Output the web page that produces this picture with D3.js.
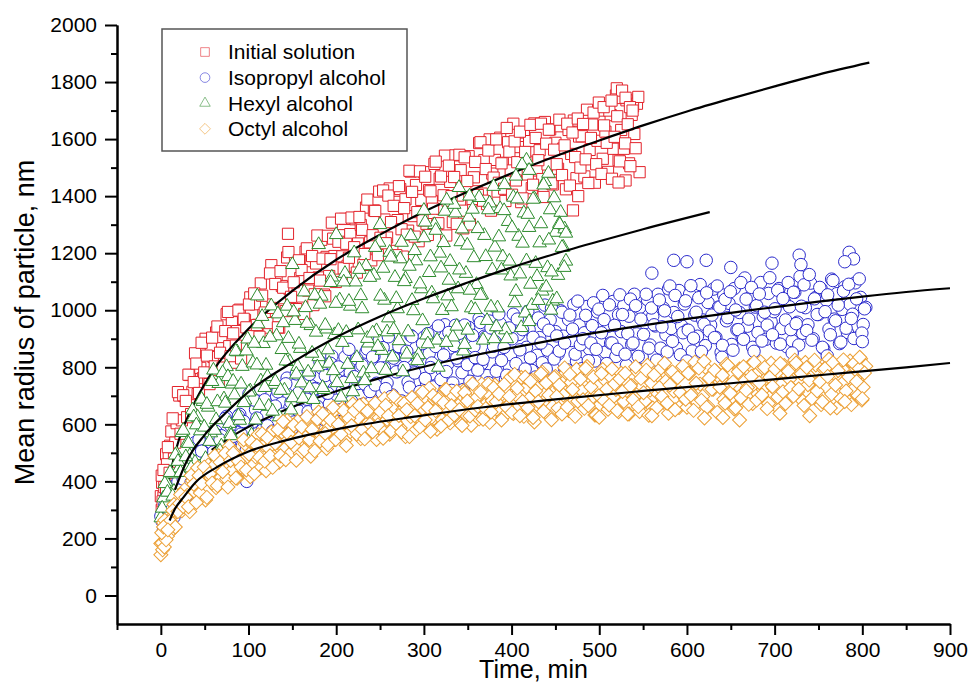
<!DOCTYPE html>
<html>
<head>
<meta charset="utf-8">
<script src="https://cdn.jsdelivr.net/npm/d3@7"></script>
<style>
	body { margin: 0; background: #fff; }
	svg { display: block; }
	text { font-family: 'Liberation Sans', Arial, sans-serif; fill: #000; }
</style>
</head>
<body>
<svg id="chart" width="970" height="684"></svg>
<script>
// Series: [time, min ; mean radius, nm]
const initialSolution = [
	[0,348],[3,345],[6,495],[9,482],[12,575],[15,480],[18,604],[21,701],[24,614],[27,699],
	[30,625],[33,773],[36,714],[39,849],[42,706],[45,798],[48,762],[51,900],[54,744],[57,878],
	[60,836],[63,922],[66,752],[69,906],[72,829],[75,986],[78,874],[81,958],[84,816],[87,927],
	[90,1002],[93,873],[96,966],[99,944],[102,1045],[105,893],[108,1021],[111,949],[114,1094],[117,984],
	[120,1020],[123,939],[126,1158],[129,997],[132,1106],[135,939],[138,1085],[141,1003],[144,1185],[147,1073],
	[150,1000],[153,1166],[156,1072],[159,1113],[162,1009],[165,1205],[168,1069],[171,1172],[174,1018],[177,1164],
	[180,1115],[183,1247],[186,1055],[189,1187],[192,1120],[195,1307],[198,1190],[201,1107],[204,1263],[207,1189],
	[210,1320],[213,1156],[216,1267],[219,1113],[222,1319],[225,1234],[228,1299],[231,1159],[234,1360],[237,1220],
	[240,1175],[243,1350],[246,1250],[249,1416],[252,1210],[255,1318],[258,1255],[261,1427],[264,1208],[267,1380],
	[270,1316],[273,1425],[276,1188],[279,1389],[282,1279],[285,1486],[288,1330],[291,1439],[294,1242],[297,1387],
	[300,1484],[303,1302],[306,1421],[309,1383],[312,1513],[315,1297],[318,1461],[321,1355],[324,1542],[327,1384],
	[330,1450],[333,1309],[336,1543],[339,1402],[342,1491],[345,1287],[348,1434],[351,1540],[354,1371],[357,1466],
	[360,1417],[363,1586],[366,1409],[369,1526],[372,1372],[375,1599],[378,1479],[381,1527],[384,1416],[387,1605],
	[390,1517],[393,1383],[396,1589],[399,1490],[402,1654],[405,1455],[408,1572],[411,1379],[414,1623],[417,1521],
	[420,1593],[423,1428],[426,1655],[429,1490],[432,1561],[435,1460],[438,1660],[441,1511],[444,1634],[447,1441],
	[450,1587],[453,1496],[456,1645],[459,1567],[462,1424],[465,1632],[468,1548],[471,1665],[474,1463],[477,1609],
	[480,1610],[483,1469],[486,1703],[489,1562],[492,1651],[495,1447],[498,1594],[501,1700],[504,1531],[507,1626],
	[510,1485],[513,1684],[516,1566],[519,1753],[522,1526],[525,1632],[528,1566],[531,1736],[534,1515],[537,1685],
	[540,1618],[543,1724],[546,1484],
	[1.5,395],[4.5,395],[7.5,407],[10.5,525],[13.5,621],[16.5,536],[19.5,713],[22.5,567],[25.5,702],[28.5,682],
	[31.5,774],[34.5,636],[37.5,748],[40.5,813],[43.5,710],[46.5,886],[49.5,782],[52.5,841],[55.5,741],[58.5,904],
	[61.5,803],[64.5,943],[67.5,851],[70.5,799],[73.5,927],[76.5,994],[79.5,839],[82.5,919],[85.5,876],[88.5,999],
	[91.5,831],[94.5,970],[97.5,940],[100.5,1020],[103.5,909],[106.5,1059],[109.5,948],[112.5,907],[115.5,1051],[118.5,992],
	[121.5,955],[124.5,1129],[127.5,1008],[130.5,1092],[133.5,940],[136.5,1137],[139.5,1079],[142.5,997],[145.5,1204],[148.5,1047],
	[151.5,1098],[154.5,1004],[157.5,1175],[160.5,1141],[163.5,987],[166.5,1217],[169.5,1113],[172.5,1190],[175.5,1056],[178.5,1262],
	[181.5,1104],[184.5,1181],[187.5,1049],[190.5,1261],[193.5,1179],[196.5,1251],[199.5,1099],[202.5,1240],[205.5,1321],[208.5,1147],
	[211.5,1233],[214.5,1184],[217.5,1325],[220.5,1221],[223.5,1132],[226.5,1327],[229.5,1282],[232.5,1197],[235.5,1388],[238.5,1238],
	[241.5,1263],[244.5,1348],[247.5,1193],[250.5,1254],[253.5,1420],[256.5,1235],[259.5,1402],[262.5,1309],[265.5,1366],[268.5,1193],
	[271.5,1435],[274.5,1284],[277.5,1358],[280.5,1265],[283.5,1489],[286.5,1415],[289.5,1258],[292.5,1344],[295.5,1487],[298.5,1315],
	[301.5,1468],[304.5,1264],[307.5,1417],[310.5,1356],[313.5,1521],[316.5,1305],[319.5,1469],[322.5,1403],[325.5,1262],[328.5,1507],
	[331.5,1400],[334.5,1467],[337.5,1303],[340.5,1545],[343.5,1349],[346.5,1536],[349.5,1453],[352.5,1301],[355.5,1390],[358.5,1520],
	[361.5,1404],[364.5,1589],[367.5,1384],[370.5,1495],[373.5,1560],[376.5,1349],[379.5,1465],[382.5,1599],[385.5,1447],[388.5,1515],
	[391.5,1426],[394.5,1639],[397.5,1556],[400.5,1405],[403.5,1592],[406.5,1519],[409.5,1626],[412.5,1392],[415.5,1555],[418.5,1476],
	[421.5,1650],[424.5,1440],[427.5,1604],[430.5,1526],[433.5,1654],[436.5,1397],[439.5,1584],[442.5,1633],[445.5,1445],[448.5,1563],
	[451.5,1512],[454.5,1668],[457.5,1474],[460.5,1578],[463.5,1654],[466.5,1437],[469.5,1623],[472.5,1537],[475.5,1672],[478.5,1500],
	[481.5,1653],[484.5,1529],[487.5,1446],[490.5,1604],[493.5,1693],[496.5,1512],[499.5,1728],[502.5,1478],[505.5,1648],[508.5,1587],
	[511.5,1700],[514.5,1461],[517.5,1608],[520.5,1680],[523.5,1522],[526.5,1744],[529.5,1585],[532.5,1652],[535.5,1505],[538.5,1715],
	[541.5,1568],[544.5,1748],
	[1,300],[2,330],[4,380],[5,420],[7,460],[8,520],[1,420],[3,440],[6,360],[10,430],[2,270],[145,1268],
	[520,1778],[526,1770],[530,1745],[535,1712],[538,1700],[530,1455],[522,1448],[470,1350],[476,1400],[505,1712],[514,1735]
];

const isopropylAlcohol = [
	[0,278],[3,230],[6,345],[9,297],[12,350],[15,275],[18,353],[21,413],[24,352],[27,408],
	[30,338],[33,472],[36,409],[39,536],[42,402],[45,476],[48,442],[51,555],[54,424],[57,537],
	[60,503],[63,575],[66,430],[69,560],[72,495],[75,628],[78,532],[81,602],[84,481],[87,572],
	[90,635],[93,525],[96,602],[99,581],[102,686],[105,517],[108,652],[111,570],[114,723],[117,601],
	[120,634],[123,556],[126,754],[129,602],[132,698],[135,542],[138,675],[141,597],[144,762],[147,657],
	[150,587],[153,738],[156,650],[159,688],[162,590],[165,769],[168,644],[171,736],[174,594],[177,726],
	[180,679],[183,798],[186,617],[189,736],[192,670],[195,839],[198,727],[201,649],[204,789],[207,718],
	[210,836],[213,683],[216,781],[219,637],[222,824],[225,743],[228,801],[231,671],[234,853],[237,723],
	[240,679],[243,838],[246,744],[249,894],[252,712],[255,798],[258,745],[261,880],[264,703],[267,838],
	[270,785],[273,870],[276,678],[279,837],[282,748],[285,911],[288,784],[291,869],[294,710],[297,822],
	[300,905],[303,747],[306,849],[309,815],[312,927],[315,739],[318,881],[321,788],[324,949],[327,811],
	[330,868],[333,745],[336,947],[339,823],[342,900],[345,722],[348,849],[351,940],[354,792],[357,873],
	[360,830],[363,971],[366,813],[369,909],[372,771],[375,962],[378,854],[381,890],[384,792],[387,953],
	[390,875],[393,756],[396,933],[399,844],[402,986],[405,813],[408,915],[411,747],[414,958],[417,870],
	[420,932],[423,789],[426,986],[429,842],[432,904],[435,816],[438,1018],[441,860],[444,966],[447,798],
	[450,925],[453,846],[456,998],[459,909],[462,786],[465,967],[468,894],[471,1020],[474,822],[477,948],
	[480,795],[483,921],[486,1013],[489,864],[492,946],[495,822],[498,994],[501,890],[504,1052],[507,853],
	[510,944],[513,885],[516,1031],[519,838],[522,984],[525,925],[528,1016],[531,807],[534,979],[537,880],
	[540,1056],[543,917],[546,1009],[549,835],[552,956],[555,1037],[558,878],[561,979],[564,945],[567,1056],
	[570,867],[573,1008],[576,914],[579,1075],[582,936],[585,992],[588,868],[591,1069],[594,945],[597,1022],
	[600,930],[603,1056],[606,857],[609,983],[612,909],[615,1090],[618,966],[621,876],[624,1027],[627,948],
	[630,1074],[633,905],[636,1011],[639,852],[642,1053],[645,963],[648,1024],[651,880],[654,1076],[657,931],
	[660,992],[663,903],[666,1113],[669,944],[672,1045],[675,870],[678,1011],[681,922],[684,1097],[687,978],
	[690,898],[693,1059],[696,959],[699,995],[702,885],[705,1076],[708,936],[711,1031],[714,872],[717,1012],
	[720,893],[723,1063],[726,958],[729,1118],[732,919],[735,1009],[738,949],[741,1095],[744,900],[747,1045],
	[750,985],[753,1075],[756,865],[759,1035],[762,934],[765,1109],[768,969],[771,1058],[774,883],[777,1003],
	[780,1082],[783,922],[786,1021],[789,986],[792,1096],[795,905],[798,1045],[801,950],[804,1010],
	[1.5,260],[4.5,316],[7.5,250],[10.5,295],[13.5,381],[16.5,313],[19.5,398],[22.5,370],[25.5,408],[28.5,345],
	[31.5,481],[34.5,396],[37.5,451],[40.5,401],[43.5,547],[46.5,506],[49.5,414],[52.5,474],[55.5,569],[58.5,466],
	[61.5,568],[64.5,445],[67.5,546],[70.5,513],[73.5,621],[76.5,490],[79.5,596],[82.5,558],[85.5,473],[88.5,629],
	[91.5,566],[94.5,610],[97.5,511],[100.5,707],[103.5,532],[106.5,685],[109.5,622],[112.5,504],[115.5,579],[118.5,686],
	[121.5,595],[124.5,742],[127.5,576],[130.5,664],[133.5,714],[136.5,544],[139.5,636],[142.5,742],[145.5,622],[148.5,677],
	[151.5,608],[154.5,777],[157.5,712],[160.5,593],[163.5,744],[166.5,688],[169.5,775],[172.5,591],[175.5,724],[178.5,663],
	[181.5,819],[184.5,638],[187.5,771],[190.5,709],[193.5,814],[196.5,610],[199.5,762],[202.5,801],[205.5,652],[208.5,747],
	[211.5,708],[214.5,863],[217.5,681],[220.5,767],[223.5,830],[226.5,657],[229.5,807],[232.5,741],[235.5,864],[238.5,715],
	[241.5,836],[244.5,738],[247.5,672],[250.5,798],[253.5,869],[256.5,725],[259.5,907],[262.5,697],[265.5,832],[268.5,784],
	[271.5,873],[274.5,682],[277.5,799],[280.5,856],[283.5,730],[286.5,907],[289.5,780],[292.5,833],[295.5,715],[298.5,883],
	[301.5,761],[304.5,918],[307.5,799],[310.5,731],[313.5,873],[316.5,945],[319.5,757],[322.5,843],[325.5,785],[328.5,922],
	[331.5,719],[334.5,876],[337.5,832],[340.5,919],[343.5,781],[346.5,948],[349.5,809],[352.5,751],[355.5,912],[358.5,834],
	[361.5,790],[364.5,957],[367.5,828],[370.5,905],[373.5,746],[376.5,938],[379.5,874],[382.5,786],[385.5,987],[388.5,824],
	[391.5,870],[394.5,772],[397.5,938],[400.5,900],[403.5,742],[406.5,969],[409.5,861],[412.5,932],[415.5,794],[418.5,996],
	[421.5,833],[424.5,905],[427.5,766],[430.5,973],[433.5,885],[436.5,952],[439.5,794],[442.5,930],[445.5,1007],[448.5,829],
	[451.5,910],[454.5,857],[457.5,993],[460.5,885],[463.5,791],[466.5,983],[469.5,934],[472.5,846],[475.5,1032],[478.5,879],
	[481.5,900],[484.5,982],[487.5,823],[490.5,885],[493.5,1026],[496.5,863],[499.5,1004],[502.5,921],[505.5,967],[508.5,813],
	[511.5,1019],[514.5,885],[517.5,947],[520.5,863],[523.5,1054],[526.5,985],[529.5,846],[532.5,918],[535.5,1039],[538.5,885],
	[541.5,1016],[544.5,838],[547.5,969],[550.5,915],[553.5,1056],[556.5,867],[559.5,1008],[562.5,949],[565.5,825],[568.5,1036],
	[571.5,942],[574.5,998],[577.5,854],[580.5,1085],[583.5,891],[586.5,1052],[589.5,978],[592.5,844],[595.5,921],[598.5,1033],
	[601.5,930],[604.5,1086],[607.5,902],[610.5,993],[613.5,1044],[616.5,855],[619.5,951],[622.5,1061],[625.5,927],[628.5,983],
	[631.5,904],[634.5,1085],[637.5,1011],[640.5,877],[643.5,1038],[646.5,974],[649.5,1065],[652.5,860],[655.5,1001],[658.5,932],
	[661.5,1097],[664.5,898],[667.5,1039],[670.5,969],[673.5,1080],[676.5,856],[679.5,1016],[682.5,1057],[685.5,892],[688.5,993],
	[691.5,948],[694.5,1114],[697.5,914],[700.5,1005],[703.5,1070],[706.5,881],[709.5,1041],[712.5,966],[715.5,1097],[718.5,932],
	[721.5,1063],[724.5,953],[727.5,878],[730.5,1014],[733.5,1089],[736.5,929],[739.5,1125],[742.5,895],[745.5,1040],[748.5,985],
	[751.5,1080],[754.5,870],[757.5,995],[760.5,1054],[763.5,914],[766.5,1104],[769.5,963],[772.5,1018],[775.5,888],[778.5,1067],
	[781.5,937],[784.5,1091],[787.5,971],[790.5,901],[793.5,1040],[796.5,1110],[799.5,920],[802.5,1005],
	[98,400],[585,1175],[600,1170],[622,1175],[697,1165],[728,1193],[785,1203],[790,1180],[780,1170],
	[730,1160],[650,1150],[560,1130],[720,850],[760,840],[800,890],[640,835],[600,822]
];

const hexylAlcohol = [
	[0,272],[3,342],[6,398],[9,363],[12,426],[15,365],[18,496],[21,447],[24,571],[27,456],
	[30,535],[33,490],[36,650],[39,467],[42,625],[45,577],[48,680],[51,480],[54,660],[57,570],
	[60,790],[63,616],[66,743],[69,524],[72,689],[75,802],[78,603],[81,741],[84,703],[87,854],
	[90,614],[93,803],[96,685],[99,899],[102,717],[105,815],[108,615],[111,952],[114,752],[117,883],
	[120,807],[123,663],[126,1015],[129,740],[132,910],[135,626],[138,862],[141,720],[144,1014],[147,820],
	[150,693],[153,964],[156,803],[159,866],[162,691],[165,1009],[168,783],[171,946],[174,687],[177,923],
	[180,837],[183,1049],[186,722],[189,934],[192,814],[195,1116],[198,914],[201,746],[204,1036],[207,887],
	[210,1129],[213,810],[216,1014],[219,714],[222,1099],[225,931],[228,1051],[231,780],[234,1156],[237,885],
	[240,795],[243,1123],[246,928],[249,1238],[252,859],[255,1035],[258,924],[261,1203],[264,836],[267,1115],
	[270,1005],[273,1180],[276,784],[279,1111],[282,924],[285,1261],[288,998],[291,1173],[294,844],[297,1075],
	[300,1254],[303,913],[306,1132],[309,1060],[312,1300],[315,895],[318,1200],[321,999],[324,1347],[327,1050],
	[330,1171],[333,906],[336,1341],[339,1075],[342,1240],[345,857],[348,1129],[351,1326],[354,1008],[357,1184],
	[360,1090],[363,1395],[366,1054],[369,1262],[372,964],[375,1376],[378,1142],[381,1221],[384,1008],[387,1356],
	[390,1187],[393,931],[396,1311],[399,1120],[402,1396],[405,1066],[408,1259],[411,939],[414,1341],[417,1173],
	[420,1290],[423,1017],[426,1391],[429,1118],[432,1236],[435,1067],[438,1451],[441,1149],[444,1352],[447,1032],
	[450,1273],[453,1122],[456,1343],[459,1221],[462,1172],
	[1.5,306],[4.5,392],[7.5,362],[10.5,431],[13.5,348],[16.5,492],[19.5,470],[22.5,431],[25.5,579],[28.5,486],
	[31.5,533],[34.5,447],[37.5,626],[40.5,598],[43.5,451],[46.5,688],[49.5,590],[52.5,670],[55.5,540],[58.5,750],
	[61.5,579],[64.5,679],[67.5,506],[70.5,781],[73.5,674],[76.5,767],[79.5,568],[82.5,751],[85.5,856],[88.5,630],
	[91.5,741],[94.5,676],[97.5,857],[100.5,713],[103.5,563],[106.5,884],[109.5,808],[112.5,666],[115.5,978],[118.5,729],
	[121.5,767],[124.5,905],[127.5,646],[130.5,750],[133.5,987],[136.5,719],[139.5,956],[142.5,822],[145.5,901],[148.5,650],
	[151.5,994],[154.5,776],[157.5,881],[160.5,745],[163.5,1064],[166.5,954],[169.5,728],[172.5,849],[175.5,1052],[178.5,801],
	[181.5,1021],[184.5,729],[187.5,947],[190.5,861],[193.5,1097],[196.5,788],[199.5,1024],[202.5,929],[205.5,695],[208.5,1099],
	[211.5,922],[214.5,1031],[217.5,760],[220.5,1201],[223.5,834],[226.5,1143],[229.5,1005],[232.5,753],[235.5,901],[238.5,1115],
	[241.5,920],[244.5,1220],[247.5,873],[250.5,1049],[253.5,1147],[256.5,789],[259.5,973],[262.5,1186],[265.5,932],[268.5,1041],
	[271.5,893],[274.5,1238],[277.5,1100],[280.5,846],[283.5,1154],[286.5,1034],[289.5,1209],[292.5,823],[295.5,1092],[298.5,963],
	[301.5,1309],[304.5,882],[307.5,1187],[310.5,1040],[313.5,1280],[316.5,800],[319.5,1148],[322.5,1237],[325.5,887],[328.5,1105],
	[331.5,1012],[334.5,1371],[337.5,944],[340.5,1141],[343.5,1285],[346.5,880],[349.5,1228],[352.5,1070],[355.5,1354],[358.5,1002],
	[361.5,1286],[364.5,1052],[367.5,895],[370.5,1188],[373.5,1352],[376.5,1011],[379.5,1434],[382.5,942],[385.5,1257],[388.5,1141],
	[391.5,1349],[394.5,900],[397.5,1172],[400.5,1289],[403.5,1026],[406.5,1390],[409.5,1127],[412.5,1235],[415.5,990],[418.5,1336],
	[421.5,1091],[424.5,1389],[427.5,1164],[430.5,1034],[433.5,1303],[436.5,1439],[439.5,1081],[442.5,1246],[445.5,1134],[448.5,1394],
	[451.5,1040],[454.5,1304],[457.5,1220],[460.5,1285],
	[417,1526],[412,1510],[420,1490],[405,1470],[392,1440],[326,1386],[340,1430],[352,1400],[300,1350],
	[250,1300],[200,1265],[180,1230],[150,1160],[110,1050],[442,1480],[455,1300],[460,1150],[462,1270],
	[350,930],[380,900],[420,960],[445,1000],[100,540],[80,560]
];

const octylAlcohol = [
	[0,182],[3,255],[6,209],[9,265],[12,226],[15,319],[18,293],[21,322],[24,297],[27,371],
	[30,351],[33,294],[36,402],[39,363],[42,448],[45,359],[48,422],[51,335],[54,457],[57,413],
	[60,453],[63,378],[66,490],[69,415],[72,453],[75,409],[78,523],[81,439],[84,501],[87,411],
	[90,484],[93,445],[96,531],[99,487],[102,416],[105,527],[108,486],[111,564],[114,448],[117,527],
	[120,437],[123,516],[126,573],[129,487],[132,538],[135,467],[138,573],[141,513],[144,613],[147,496],
	[150,554],[153,521],[156,611],[159,497],[162,587],[165,554],[168,611],[171,488],[174,593],[177,536],
	[180,643],[183,561],[186,618],[189,515],[192,590],[195,640],[198,547],[201,608],[204,589],[207,656],
	[210,544],[213,629],[216,574],[219,671],[222,589],[225,623],[228,550],[231,671],[234,598],[237,644],
	[240,589],[243,665],[246,547],[249,623],[252,580],[255,690],[258,617],[261,565],[264,656],[267,610],
	[270,687],[273,587],[276,652],[279,557],[282,679],[285,627],[288,665],[291,580],[294,698],[297,613],
	[300,651],[303,598],[306,726],[309,625],[312,686],[315,583],[318,668],[321,616],[324,722],[327,651],
	[330,605],[333,702],[336,643],[339,666],[342,601],[345,717],[348,634],[351,692],[354,597],[357,683],
	[360,693],[363,619],[366,741],[369,667],[372,713],[375,607],[378,683],[381,738],[384,650],[387,699],
	[390,625],[393,729],[396,667],[399,765],[402,638],[405,703],[408,661],[411,764],[414,628],[417,731],
	[420,690],[423,754],[426,608],[429,728],[432,659],[435,783],[438,685],[441,749],[444,627],[447,711],
	[450,768],[453,657],[456,727],[459,703],[462,781],[465,648],[468,747],[471,681],[474,793],[477,696],
	[480,718],[483,656],[486,803],[489,685],[492,755],[495,633],[498,732],[501,669],[504,792],[507,709],
	[510,653],[513,766],[516,696],[519,722],[522,644],[525,779],[528,680],[531,748],[534,636],[537,735],
	[540,696],[543,785],[546,645],[549,733],[552,681],[555,807],[558,720],[561,657],[564,764],[567,707],
	[570,796],[573,677],[576,752],[579,639],[582,781],[585,717],[588,761],[591,659],[594,797],[597,695],
	[600,660],[603,779],[606,705],[609,818],[612,677],[615,741],[618,698],[621,800],[624,663],[627,765],
	[630,723],[633,786],[636,639],[639,758],[642,688],[645,811],[648,712],[651,776],[654,654],[657,738],
	[660,794],[663,683],[666,753],[669,729],[672,807],[675,673],[678,773],[681,706],[684,819],[687,721],
	[690,761],[693,673],[696,814],[699,726],[702,780],[705,654],[708,743],[711,806],[714,701],[717,758],
	[720,726],[723,825],[726,713],[729,781],[732,682],[735,817],[738,739],[741,765],[744,695],[747,808],
	[750,752],[753,669],[756,792],[759,729],[762,828],[765,706],[768,777],[771,658],[774,806],[777,743],
	[780,786],[783,685],[786,822],[789,721],[792,764],[795,701],[798,830],[801,730],[804,804],
	[1.5,184],[4.5,264],[7.5,208],[10.5,261],[13.5,298],[16.5,240],[19.5,294],[22.5,354],[25.5,312],[28.5,344],
	[31.5,311],[34.5,421],[37.5,390],[40.5,326],[43.5,421],[46.5,393],[49.5,450],[52.5,344],[55.5,427],[58.5,394],
	[61.5,490],[64.5,385],[67.5,467],[70.5,434],[73.5,499],[76.5,380],[79.5,473],[82.5,499],[85.5,412],[88.5,471],
	[91.5,450],[94.5,546],[97.5,440],[100.5,495],[103.5,538],[106.5,427],[109.5,526],[112.5,485],[115.5,567],[118.5,471],
	[121.5,553],[124.5,490],[127.5,449],[130.5,533],[133.5,582],[136.5,490],[139.5,610],[142.5,476],[145.5,566],[148.5,537],
	[151.5,597],[154.5,474],[157.5,552],[160.5,591],[163.5,510],[166.5,627],[169.5,546],[172.5,582],[175.5,507],[178.5,618],
	[181.5,542],[184.5,637],[187.5,568],[190.5,528],[193.5,615],[196.5,659],[199.5,547],[202.5,600],[205.5,565],[208.5,648],
	[211.5,526],[214.5,621],[217.5,595],[220.5,648],[223.5,565],[226.5,666],[229.5,583],[232.5,549],[235.5,646],[238.5,600],
	[241.5,574],[244.5,675],[247.5,598],[250.5,645],[253.5,551],[256.5,667],[259.5,630],[262.5,577],[265.5,699],[268.5,602],
	[271.5,631],[274.5,573],[277.5,673],[280.5,651],[283.5,557],[286.5,694],[289.5,630],[292.5,673],[295.5,591],[298.5,713],
	[301.5,615],[304.5,659],[307.5,576],[310.5,701],[313.5,648],[316.5,688],[319.5,594],[322.5,676],[325.5,722],[328.5,616],
	[331.5,665],[334.5,633],[337.5,716],[340.5,651],[343.5,596],[346.5,711],[349.5,682],[352.5,629],[355.5,742],[358.5,650],
	[361.5,663],[364.5,713],[367.5,618],[370.5,655],[373.5,741],[376.5,643],[379.5,728],[382.5,679],[385.5,707],[388.5,615],
	[391.5,740],[394.5,660],[397.5,698],[400.5,641],[403.5,775],[406.5,727],[409.5,630],[412.5,680],[415.5,765],[418.5,658],
	[421.5,750],[424.5,624],[427.5,717],[430.5,679],[433.5,778],[436.5,646],[439.5,745],[442.5,703],[445.5,616],[448.5,764],
	[451.5,698],[454.5,738],[457.5,636],[460.5,798],[463.5,661],[466.5,775],[469.5,722],[472.5,628],[475.5,681],[478.5,759],
	[481.5,686],[484.5,796],[487.5,666],[490.5,731],[493.5,766],[496.5,633],[499.5,700],[502.5,778],[505.5,683],[508.5,723],
	[511.5,667],[514.5,794],[517.5,742],[520.5,648],[523.5,760],[526.5,715],[529.5,779],[532.5,636],[535.5,734],[538.5,686],
	[541.5,802],[544.5,662],[547.5,761],[550.5,711],[553.5,790],[556.5,632],[559.5,745],[562.5,773],[565.5,658],[568.5,729],
	[571.5,698],[574.5,814],[577.5,674],[580.5,738],[583.5,784],[586.5,651],[589.5,764],[592.5,711],[595.5,804],[598.5,688],
	[601.5,779],[604.5,702],[607.5,649],[610.5,744],[613.5,797],[616.5,684],[619.5,821],[622.5,660],[625.5,762],[628.5,723],
	[631.5,790],[634.5,642],[637.5,730],[640.5,772],[643.5,674],[646.5,807],[649.5,709],[652.5,748],[655.5,657],[658.5,784],
	[661.5,693],[664.5,802],[667.5,719],[670.5,670],[673.5,768],[676.5,818],[679.5,685],[682.5,746],[685.5,703],[688.5,799],
	[691.5,655],[694.5,765],[697.5,733],[700.5,794],[703.5,696],[706.5,813],[709.5,714],[712.5,673],[715.5,786],[718.5,729],
	[721.5,699],[724.5,815],[727.5,724],[730.5,777],[733.5,666],[736.5,799],[739.5,755],[742.5,691],[745.5,825],[748.5,717],
	[751.5,750],[754.5,679],[757.5,796],[760.5,768],[763.5,657],[766.5,816],[769.5,738],[772.5,789],[775.5,690],[778.5,826],
	[781.5,717],[784.5,766],[787.5,669],[790.5,813],[793.5,750],[796.5,796],[799.5,685],[802.5,780],
	[0,143],[2,160],[4,170],[6,195],[1,220],[3,240],[8,230],[660,615],[641,624],[706,638],[740,630],
	[800,690],[780,680],[560,630],[500,625],[620,622],[797,835]
];

// Fitted curves
const initialFit = [[8,395],[20,540],[40,685],[60,790],[100,935],[150,1068],[200,1177],[250,1265],[300,1345],[350,1415],[400,1480],[450,1540],[500,1595],[550,1648],[600,1697],[650,1742],[700,1785],[750,1826],[808,1868]];
const isopropylFit = [[58,510],[80,556],[100,591],[150,661],[200,716],[250,762],[300,802],[350,837],[400,868],[450,897],[500,923],[550,947],[600,970],[650,991],[700,1011],[750,1030],[800,1048],[850,1064],[900,1077]];
const hexylFit = [[16,370],[30,474],[50,563],[75,643],[100,714],[150,817],[200,905],[250,978],[300,1041],[350,1097],[400,1150],[450,1198],[500,1242],[550,1284],[626,1344]];
const octylFit = [[10,263],[16,303],[26,345],[40,398],[64,450],[100,505],[140,542],[216,592],[292,628],[368,660],[444,686],[550,717],[650,744],[750,772],[850,800],[900,815]];

// Axes
const xTicks = [0, 100, 200, 300, 400, 500, 600, 700, 800, 900];
const xMinorTicks = [-50, 50, 150, 250, 350, 450, 550, 650, 750, 850];
const yTicks = [0, 200, 400, 600, 800, 1000, 1200, 1400, 1600, 1800, 2000];
const yMinorTicks = [100, 300, 500, 700, 900, 1100, 1300, 1500, 1700, 1900];

const legendLabels = ['Initial solution', 'Isopropyl alcohol', 'Hexyl alcohol', 'Octyl alcohol'];

const svg = d3.select('#chart');

const x = d3.scaleLinear().domain([-50, 900]).range([117, 950]);
const y = d3.scaleLinear().domain([-100, 2000]).range([624, 25]);

// Marker styles for each series
const styles = [
	{ type: d3.symbolSquare, size: 125, color: '#e3232b', rotate: 0 },
	{ type: d3.symbolCircle, size: 122, color: '#2b2bcc', rotate: 0 },
	{ type: d3.symbolTriangle, size: 80, color: '#2e8c2e', rotate: 0 },
	{ type: d3.symbolSquare, size: 98, color: '#ec9f33', rotate: 45 },
];

const line = d3
	.line()
	.x((d) => x(d[0]))
	.y((d) => y(d[1]))
	.curve(d3.curveMonotoneX);

const plot = svg.append('g').attr('class', 'plot');

function drawPoints(data, style) {
	const symbol = d3.symbol().type(style.type).size(style.size);
	plot
		.append('g')
		.selectAll('path')
		.data(data)
		.enter()
		.append('path')
		.attr('d', symbol)
		.attr('transform', (d) => `translate(${x(d[0])},${y(d[1])}) rotate(${style.rotate})`)
		.attr('fill', '#fff')
		.attr('stroke', style.color)
		.attr('stroke-width', 1);
}

function drawFit(data) {
	plot.append('path').datum(data).attr('d', line).attr('fill', 'none').attr('stroke', '#000').attr('stroke-width', 2.2);
}

// Drawing order: each fit sits above its own points, under the next series
drawPoints(initialSolution, styles[0]);
drawFit(initialFit);
drawPoints(isopropylAlcohol, styles[1]);
drawFit(isopropylFit);
drawPoints(hexylAlcohol, styles[2]);
drawFit(hexylFit);
drawPoints(octylAlcohol, styles[3]);
drawFit(octylFit);

// X axis (major and minor ticks in separate groups so the second call does not replace the first)
const xAxisG = svg.append('g').attr('transform', `translate(0,${y(-100)})`);
xAxisG.call(d3.axisBottom(x).tickValues(xTicks).tickSize(11).tickSizeOuter(0).tickPadding(7).tickFormat(d3.format('d')));
svg
	.append('g')
	.attr('transform', `translate(0,${y(-100)})`)
	.call(d3.axisBottom(x).tickValues(xMinorTicks).tickSize(6).tickSizeOuter(0).tickFormat(''));

// Y axis
const yAxisG = svg.append('g').attr('transform', `translate(${x(-50)},0)`);
yAxisG.call(d3.axisLeft(y).tickValues(yTicks).tickSize(12).tickSizeOuter(0).tickPadding(8).tickFormat(d3.format('d')));
svg
	.append('g')
	.attr('transform', `translate(${x(-50)},0)`)
	.call(d3.axisLeft(y).tickValues(yMinorTicks).tickSize(6).tickSizeOuter(0).tickFormat(''));

svg.selectAll('.domain, .tick line').attr('stroke', '#000').attr('stroke-width', 2);
svg.selectAll('.tick text').attr('font-size', 21).attr('font-family', "'Liberation Sans', Arial, sans-serif").attr('fill', '#000');

// Axis titles
svg
	.append('text')
	.attr('x', (x(-50) + x(900)) / 2)
	.attr('y', 678)
	.attr('text-anchor', 'middle')
	.attr('font-size', 25)
	.text('Time, min');

svg
	.append('text')
	.attr('transform', `translate(34,${(y(-100) + y(2000)) / 2 - 2}) rotate(-90)`)
	.attr('text-anchor', 'middle')
	.attr('font-size', 27)
	.text('Mean radius of particle, nm');

// Legend
const legend = svg.append('g').attr('class', 'legend');
legend.append('rect').attr('x', 162).attr('y', 29).attr('width', 245).attr('height', 122).attr('fill', '#fff').attr('stroke', '#555').attr('stroke-width', 1.5);

const legendItems = legend
	.selectAll('.legend-item')
	.data(legendLabels)
	.enter()
	.append('g')
	.attr('class', 'legend-item')
	.attr('transform', (d, i) => `translate(205,${52 + i * 25.6})`);

legendItems
	.append('path')
	.attr('d', (d, i) => d3.symbol().type(styles[i].type).size(styles[i].size * 0.6)())
	.attr('transform', (d, i) => `rotate(${styles[i].rotate})`)
	.attr('fill', '#fff')
	.attr('stroke', (d, i) => styles[i].color)
	.attr('stroke-opacity', 0.7)
	.attr('stroke-width', 0.8);

legendItems
	.append('text')
	.attr('x', 23)
	.attr('dy', '0.35em')
	.attr('font-size', 21)
	.text((d) => d);
</script>
</body>
</html>
